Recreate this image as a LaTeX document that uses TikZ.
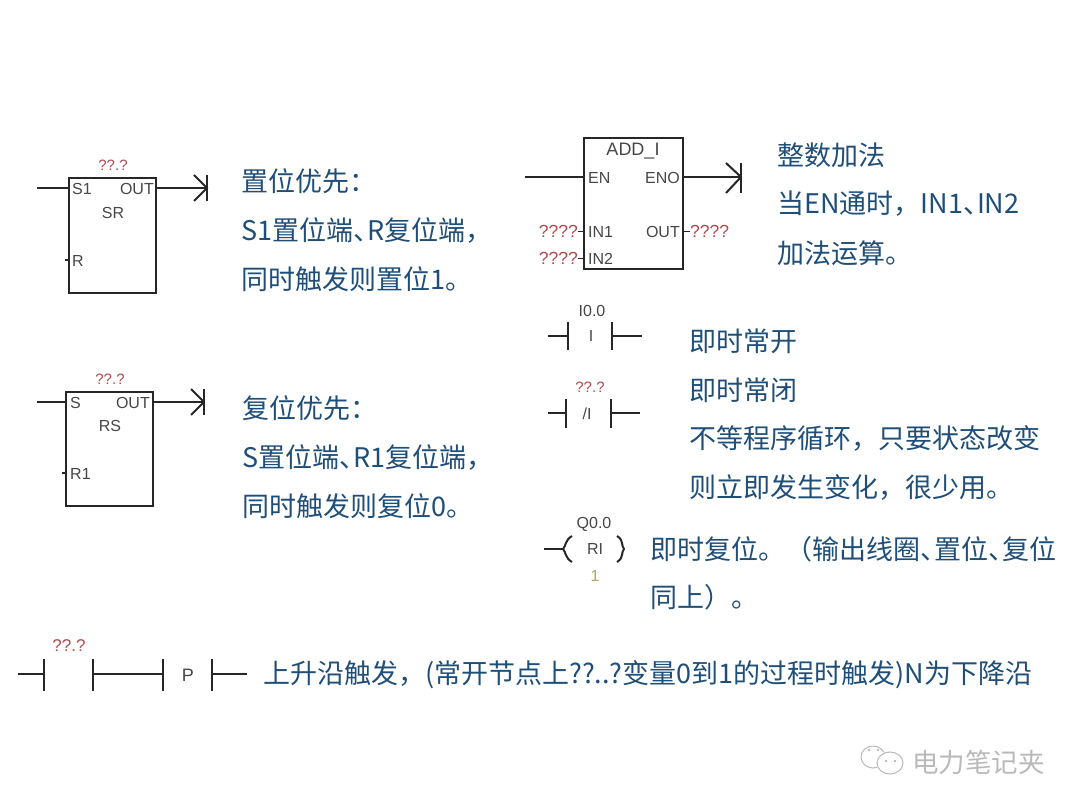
\documentclass[tikz,border=0pt]{standalone}
\usepackage{fontspec}
\setmainfont{Noto Sans CJK SC}
\newfontfamily\plcfont{Liberation Sans}
\definecolor{noteblue}{RGB}{31, 78, 121}
\definecolor{plcred}{RGB}{176, 72, 78}
\definecolor{plcgray}{RGB}{70, 70, 70}
\definecolor{plcolive}{RGB}{170, 170, 90}
\definecolor{markgray}{RGB}{185, 185, 185}
\newcommand{\dunhao}{、\kern-13pt}
\tikzset{
  plcbox/.style={draw=black!85, line width=1.9pt, inner sep=0pt},
  wire/.style={draw=black!85, line width=2pt},
  thinwire/.style={draw=black!85, line width=1.5pt},
  pinlabel/.style={font=\plcfont\fontsize{16}{18}\selectfont, text=plcgray, inner sep=0pt},
  varlabel/.style={font=\plcfont\fontsize{15}{17}\selectfont, text=plcred, inner sep=0pt},
  widevar/.style={varlabel, font=\plcfont\fontsize{17.5}{19}\selectfont},
  notetext/.style={font=\fontsize{27}{30}\selectfont, text=noteblue, anchor=west, inner sep=0pt},
}
\begin{document}
\begin{tikzpicture}[x=1pt, y=-1pt]
  \useasboundingbox (0,0) rectangle (1080,810);
  % SR block
  \node[plcbox, minimum width=87pt, minimum height=115pt] (sr) at (112.5,235.5) {};
  \node[varlabel] (srvar) at (113,165) {??.?};
  \node[pinlabel, anchor=west] (srs) at (72,188.5) {S1};
  \node[pinlabel, anchor=east] (srout) at (154,188.5) {OUT};
  \node[pinlabel] (srname) at (113,213) {SR};
  \node[pinlabel, anchor=west] (srr) at (72,260.5) {R};
  \coordinate (srin) at (37,188);
  \coordinate (srcoil) at (207,188);
  \coordinate (srstub) at (65,260);
  \draw[wire] (srin) -- (srin -| sr.west);
  \draw[wire] (srcoil -| sr.east) -- (srcoil);
  \draw[thinwire] (srstub) -- (srstub -| sr.west);
  \draw[wire] (207,175) -- (207,201);
  \draw[wire] (194,175) -- (srcoil) -- (194,201);
  % RS block
  \node[plcbox, minimum width=87pt, minimum height=114pt] (rs) at (109.5,449) {};
  \node[varlabel] (rsvar) at (110,379) {??.?};
  \node[pinlabel, anchor=west] (rss) at (70,402.5) {S};
  \node[pinlabel, anchor=east] (rsout) at (150,402.5) {OUT};
  \node[pinlabel] (rsname) at (110,426) {RS};
  \node[pinlabel, anchor=west] (rsr) at (70,473.5) {R1};
  \coordinate (rsin) at (37,402);
  \coordinate (rscoil) at (204,402);
  \coordinate (rsstub) at (62,473);
  \draw[wire] (rsin) -- (rsin -| rs.west);
  \draw[wire] (rscoil -| rs.east) -- (rscoil);
  \draw[thinwire] (rsstub) -- (rsstub -| rs.west);
  \draw[wire] (204,389) -- (204,415);
  \draw[wire] (191,389) -- (rscoil) -- (191,415);
  % ADD_I block
  \node[plcbox, minimum width=99pt, minimum height=131pt] (add) at (633.5,203.5) {};
  \node[pinlabel, font=\plcfont\fontsize{18}{20}\selectfont] (addname) at (633,151) {ADD\_I};
  \node[pinlabel, anchor=west] (adden) at (588,177.5) {EN};
  \node[pinlabel, anchor=east] (addeno) at (680,177.5) {ENO};
  \node[pinlabel, anchor=west] (addina) at (588,231.5) {IN1};
  \node[pinlabel, anchor=west] (addinb) at (588,258.5) {IN2};
  \node[pinlabel, anchor=east] (addout) at (680,231.5) {OUT};
  \node[widevar, anchor=east] (addvara) at (578,231.5) {????};
  \node[widevar, anchor=east] (addvarb) at (578,258.5) {????};
  \node[widevar, anchor=west] (addvarc) at (690,231.5) {????};
  \coordinate (addin) at (525,177);
  \coordinate (addcoil) at (741,177);
  \draw[wire] (addin) -- (addin -| add.west);
  \draw[wire] (addcoil -| add.east) -- (addcoil);
  \draw[thinwire] (addvara.east) -- (addvara.east -| add.west);
  \draw[thinwire] (addvarb.east) -- (addvarb.east -| add.west);
  \draw[thinwire] (addvarc.west) -- (addvarc.west -| add.east);
  \draw[wire] (741,163) -- (741,193);
  \draw[wire] (726,163) -- (addcoil) -- (726,193);
  % contacts
  \node[pinlabel] (iname) at (592,311) {I0.0};
  \node[pinlabel] (ibar) at (591,336) {I};
  \draw[wire] (548,336) -- (568,336);
  \draw[wire] (568,322) -- (568,350);
  \draw[wire] (612,322) -- (612,350);
  \draw[wire] (612,336) -- (642,336);
  \node[varlabel] (nivar) at (590,387) {??.?};
  \node[pinlabel] (nibar) at (587,414) {/I};
  \draw[wire] (548,413) -- (566,413);
  \draw[wire] (566,399) -- (566,428);
  \draw[wire] (611,399) -- (611,428);
  \draw[wire] (611,413) -- (640,413);
  % coil
  \node[pinlabel] (qname) at (594,524) {Q0.0};
  \node[pinlabel] (riname) at (595,549) {RI};
  \node[pinlabel, text=plcolive] (rival) at (595,576) {1};
  \draw[wire] (544,549) -- (563,549);
  \draw[wire] (572,536) .. controls (565,540) and (566,546) .. (563,549) .. controls (566,552) and (565,558) .. (572,562);
  \draw[wire] (617,536) .. controls (624,540) and (621,546) .. (624,549) .. controls (621,552) and (624,558) .. (617,562);
  % rising edge
  \node[varlabel, font=\plcfont\fontsize{17}{19}\selectfont] (pvar) at (69,646) {??.?};
  \node[pinlabel, font=\plcfont\fontsize{18}{20}\selectfont] (pname) at (188,675) {P};
  \draw[wire] (18,674) -- (44,674);
  \draw[wire] (44,659) -- (44,691);
  \draw[wire] (93,659) -- (93,691);
  \draw[wire] (93,674) -- (163,674);
  \draw[wire] (163,659) -- (163,691);
  \draw[wire] (212,659) -- (212,691);
  \draw[wire] (212,674) -- (247,674);
  % notes
  \node[notetext] (srnotea) at (241,181) {置位优先：};
  \node[notetext] (srnoteb) at (241,231) {S1置位端\dunhao R复位端，};
  \node[notetext] (srnotec) at (241,279) {同时触发则置位1。};
  \node[notetext] (rsnotea) at (242,408) {复位优先：};
  \node[notetext] (rsnoteb) at (242,458) {S置位端\dunhao R1复位端，};
  \node[notetext] (rsnotec) at (242,506) {同时触发则复位0。};
  \node[notetext] (addnotea) at (777,155) {整数加法};
  \node[notetext] (addnoteb) at (777,204) {当EN通时，IN1\dunhao IN2};
  \node[notetext] (addnotec) at (777,253) {加法运算。};
  \node[notetext] (inotea) at (689,341) {即时常开};
  \node[notetext] (inoteb) at (689,390) {即时常闭};
  \node[notetext] (inotec) at (689,438) {不等程序循环，只要状态改变};
  \node[notetext] (inoted) at (689,487) {则立即发生变化，很少用。};
  \node[notetext] (qnotea) at (650,549) {即时复位。（输出线圈\dunhao 置位\dunhao 复位};
  \node[notetext] (qnoteb) at (650,597) {同上）。};
  \node[notetext] (pnote) at (263,675) {上升沿触发，(常开节点上??..?变量0到1的过程时触发)N为下降沿};
  % watermark
  \draw[markgray, line width=1pt] (873,757) ellipse (12 and 11);
  \fill[white] (890,763) ellipse (14 and 12);
  \draw[markgray, line width=1pt] (890,763) ellipse (13 and 11);
  \foreach \ex/\ey in {869/750, 878/750, 886/761, 895/761}
    \fill[markgray] (\ex,\ey) circle (1.3);
  \node[notetext, text=markgray, font=\fontsize{26.5}{28}\selectfont] (markname) at (912,762) {电力笔记夹};
\end{tikzpicture}
\end{document}
